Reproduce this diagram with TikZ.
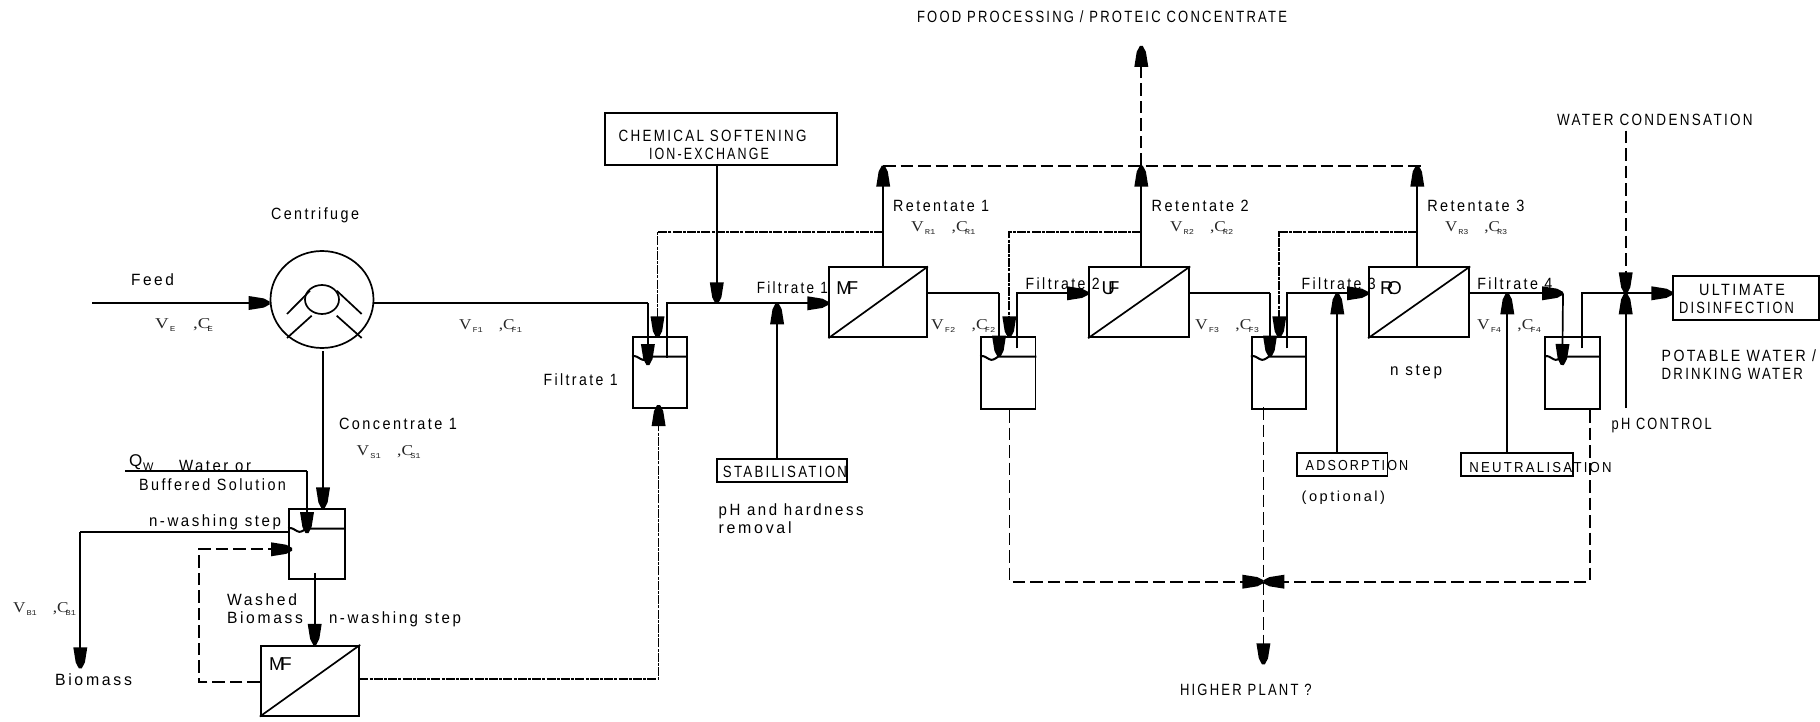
\documentclass[tikz,border=0pt]{standalone}
\usepackage{fontspec}
\usepackage{graphicx}
\usetikzlibrary{arrows.meta,shapes.geometric,calc}
\setmainfont{Liberation Sans}
\newfontfamily\labfont[LetterSpace=14,FakeStretch=0.82]{Liberation Sans}
\newfontfamily\vcserif{Liberation Serif}
\newfontfamily\vcmono{Liberation Mono}
\pgfdeclarearrow{
  name=Bullet,
  setup code={\pgfarrowssettipend{0pt}\pgfarrowssetbackend{-21pt}\pgfarrowssetlineend{-18pt}\pgfarrowssetvisualbackend{-19pt}\pgfarrowssavethe{\pgfarrowlength}},
  drawing code={
    \pgfsetlinewidth{0pt}
    \pgfpathmoveto{\pgfqpoint{0pt}{1.5pt}}
    \pgfpathlineto{\pgfqpoint{-6pt}{4.6pt}}
    \pgfpathlineto{\pgfqpoint{-21pt}{7pt}}
    \pgfpathlineto{\pgfqpoint{-21pt}{-7pt}}
    \pgfpathlineto{\pgfqpoint{-6pt}{-4.6pt}}
    \pgfpathlineto{\pgfqpoint{0pt}{-1.5pt}}
    \pgfpathclose
    \pgfusepathqfill
  },
  defaults={}
}
\newcommand\lbl[5]{\node[lab] (#1) at (#2,#3) {\resizebox{#4pt}{\height}{#5}};}
\newcommand\smtxt[1]{{\fontsize{14.5}{16}\selectfont #1}}
\newcommand\subf[1]{\raisebox{-3.5pt}{\fontsize{7.5}{8}\vcmono #1}}
\newcommand\vcl[6]{\node[vcstyle] (#1) at (#2,#3) {\resizebox{#4pt}{\height}{\vcserif V\hskip 1pt\subf{#5}\hskip 14pt,C\kern-2.5pt\subf{#6}}};}
\newcommand\mem[4]{\node[memtext] (#1) at (#2,#3) {#4};}
\tikzset{
  ln/.style={line width=1.7pt},
  tipped/.style={-{Bullet}},
  flow/.style={ln,tipped},
  longdash/.style={ln,dash pattern=on 12.5pt off 5pt},
  recyc/.style={ln,dash pattern=on 9pt off 1.2pt on 3pt off 1.2pt},
  boxn/.style={draw,rectangle,inner sep=0pt,line width=1.7pt},
  lab/.style={anchor=west,inner sep=0pt,outer sep=0pt,text height=11.7pt,text depth=0pt,font=\labfont\fontsize{16.3}{18}\selectfont},
  vcstyle/.style={anchor=west,inner sep=0pt,outer sep=0pt,text height=10pt,text depth=0pt,text=black!85,font=\fontsize{15}{17}\selectfont},
  memtext/.style={anchor=west,inner sep=0pt,outer sep=0pt,text height=13pt,text depth=0pt,font=\fontsize{18.6}{20}\selectfont},
  liquid/.style={line width=2pt}
}
\begin{document}
\begin{tikzpicture}[x=1pt,y=-1pt]
\useasboundingbox (0,0) rectangle (1820,722);
% equipment
\node[draw,ellipse,inner sep=0pt,line width=1.7pt,minimum width=103pt,minimum height=97pt] (cfg) at (322,299.5) {};
\node[draw,ellipse,inner sep=0pt,line width=1.7pt,minimum width=34pt,minimum height=29pt] (core) at (322,299.5) {};
\draw[ln] (287,314) -- (310,290.7) (361.7,314) -- (336.7,290.7) (287,338) -- (311.7,315.7) (361.7,338) -- (336.7,315.7);
\node[boxn,minimum width=56pt,minimum height=70pt] (tankW) at (317,544.3) {};
\node[boxn,minimum width=54.2pt,minimum height=70.4pt] (tankA) at (660,372.5) {};
\node[boxn,minimum width=54.4pt,minimum height=72pt] (tankB) at (1008.2,373.3) {};
\node[boxn,minimum width=54pt,minimum height=72pt] (tankC) at (1278.7,373.3) {};
\node[boxn,minimum width=54.7pt,minimum height=72pt] (tankD) at (1572.65,373.3) {};
\foreach \t in {tankW,tankA,tankB,tankC,tankD}{
  \draw[liquid] ([yshift=-20.2pt]\t.north west) .. controls +(4,-2) and +(-3,-1) .. ++(9,2.5) .. controls +(3,2) and +(-3,2) .. ++(9,-2.5) -- ([yshift=-20.2pt]\t.north east);
}
\node[boxn,minimum width=98.6pt,minimum height=70pt] (mfW) at (310,680.7) {};
\node[boxn,minimum width=97.8pt,minimum height=70pt] (mfA) at (878.2,302.3) {};
\node[boxn,minimum width=100.3pt,minimum height=70pt] (ufB) at (1139.15,302.3) {};
\node[boxn,minimum width=100.3pt,minimum height=70pt] (roC) at (1419.15,302.3) {};
\foreach \t in {mfW,mfA,ufB,roC}{\draw[ln] (\t.south west) -- (\t.north east);}
\node[boxn,minimum width=232.1pt,minimum height=51.7pt] (chem) at (721.05,139.15) {};
\node[boxn,minimum width=130.3pt,minimum height=22.4pt] (stab) at (781.95,470.5) {};
\node[boxn,minimum width=90.6pt,minimum height=22.4pt] (adso) at (1342.3,464.5) {};
\node[boxn,minimum width=112.3pt,minimum height=22.4pt] (neut) at (1517.15,464.5) {};
\node[boxn,minimum width=146pt,minimum height=44pt] (disi) at (1746.3,297.7) {};
% named free ends and junctions
\coordinate (feedin) at (92,303);
\coordinate (cfgout) at (373,303);
\coordinate (ftop) at (647.9,303);
\coordinate (ftip) at (647.9,365);
\coordinate (conc) at (323,351);
\coordinate (qin) at (125,471);
\coordinate (qc) at (307,471);
\coordinate (qtip) at (307,533);
\coordinate (bioc) at (80.3,531.7);
\coordinate (biotip) at (80.3,668.3);
\coordinate (wA) at (199,681.7);
\coordinate (wB) at (199,549.3);
\coordinate (wC) at (292,549.3);
\coordinate (wout) at (314.7,573.3);
\coordinate (mfout) at (359.3,679.3);
\coordinate (mfc) at (658.6,679.3);
\coordinate (atip) at (658.6,405);
\coordinate (aout) at (666.8,357.7);
\coordinate (atop) at (666.8,303.3);
\coordinate (chemj) at (716.8,303.3);
\coordinate (stabj) at (777.1,303.3);
\coordinate (ret1) at (883.2,165.7);
\coordinate (ret2) at (1141.3,165.7);
\coordinate (ret3) at (1417.3,165.7);
\coordinate (retend) at (1421.7,165.7);
\coordinate (food) at (1141.3,46);
\coordinate (rec1j) at (883.2,231.7);
\coordinate (rec1c) at (657.5,231.7);
\coordinate (rec1t) at (657.5,337.3);
\coordinate (rec2j) at (1141.3,231.7);
\coordinate (rec2c) at (1009.3,231.7);
\coordinate (rec2t) at (1009.3,337.3);
\coordinate (rec3j) at (1417.3,231.7);
\coordinate (rec3c) at (1279.3,231.7);
\coordinate (rec3t) at (1279.3,337.3);
\coordinate (mfex) at (927.1,293.3);
\coordinate (mfc2) at (999,293.3);
\coordinate (mft2) at (999,356.7);
\coordinate (bout) at (1017.2,348.3);
\coordinate (btop) at (1017.2,293.3);
\coordinate (ufex) at (1189.3,293.3);
\coordinate (ufc) at (1270,293.3);
\coordinate (uft) at (1270,356.7);
\coordinate (cout) at (1287.3,348.3);
\coordinate (ctop) at (1287.3,293.3);
\coordinate (adsj) at (1337.3,293.3);
\coordinate (roex) at (1469.3,293.3);
\coordinate (neuj) at (1507.3,293.3);
\coordinate (roc) at (1563,293.3);
\coordinate (rot) at (1562.3,365);
\coordinate (dout) at (1581.7,348.3);
\coordinate (dtop) at (1581.7,293.3);
\coordinate (disj) at (1625.7,293.3);
\coordinate (wcond) at (1625.7,130.7);
\coordinate (phin) at (1625.7,408);
\coordinate (hpj) at (1263.4,581.7);
\coordinate (hptip) at (1263.4,664.3);
\coordinate (hpl) at (1009.4,581.7);
\coordinate (hpr) at (1589.7,581.7);
\coordinate (cdrop) at (1263.4,407);
% connectors
\draw[flow] (feedin) -- (feedin -| cfg.west);
\draw[ln] (cfgout) -- (ftop);
\draw[flow] (ftop) -- (ftip);
\draw[flow] (conc) -- (conc |- tankW.north);
\draw[ln] (qin) -- (qc);
\draw[flow] (qc) -- (qtip);
\draw[ln] (bioc -| tankW.west) -- (bioc);
\draw[flow] (bioc) -- (biotip);
\draw[longdash] (wA -| mfW.west) -- (wA) -- (wB) -- ($(wC)+(-20,0)$);
\draw[ln,tipped] ($(wC)+(-20,0)$) -- (wC);
\draw[flow] (wout) -- (wout |- mfW.north);
\draw[recyc] (mfout) -- (mfc) -- ($(atip)+(0,20)$);
\draw[flow] ($(atip)+(0,20)$) -- (atip);
\draw[ln] (aout) -- (atop) -- (atop -| mfA.west);
\draw[flow] ($(atop -| mfA.west)+(-25,0)$) -- (atop -| mfA.west);
\draw[flow] (chemj |- chem.south) -- (chemj);
\draw[flow] (stabj |- stab.north) -- (stabj);
\draw[flow] (ret1 |- mfA.north) -- (ret1);
\draw[flow] (ret2 |- ufB.north) -- (ret2);
\draw[flow] (ret3 |- roC.north) -- (ret3);
\draw[longdash] (ret1) -- (retend);
\draw[longdash] (ret2) -- ($(food)+(0,20)$);
\draw[flow] ($(food)+(0,20)$) -- (food);
\draw[recyc] (rec1j) -- (rec1c) -- ($(rec1t)+(0,-20)$);
\draw[flow] ($(rec1t)+(0,-20)$) -- (rec1t);
\draw[recyc] (rec2j) -- (rec2c) -- ($(rec2t)+(0,-20)$);
\draw[flow] ($(rec2t)+(0,-20)$) -- (rec2t);
\draw[recyc] (rec3j) -- (rec3c) -- ($(rec3t)+(0,-20)$);
\draw[flow] ($(rec3t)+(0,-20)$) -- (rec3t);
\draw[ln] (mfex) -- (mfc2);
\draw[flow] (mfc2) -- (mft2);
\draw[flow] (bout) -- (btop) -- (btop -| ufB.west);
\draw[ln] (ufex) -- (ufc);
\draw[flow] (ufc) -- (uft);
\draw[flow] (cout) -- (ctop) -- (ctop -| roC.west);
\draw[flow] (adsj |- adso.north) -- (adsj);
\draw[flow] (roex) -- (roc);
\draw[flow] (roc) -- (rot);
\draw[flow] (neuj |- neut.north) -- (neuj);
\draw[flow] (dout) -- (dtop) -- (dtop -| disi.west);
\draw[longdash] (wcond) -- ($(disj)+(0,-20)$);
\draw[flow] ($(disj)+(0,-20)$) -- (disj);
\draw[flow] (phin) -- (disj);
\draw[longdash] (hpl |- tankB.south) -- (hpl) -- ($(hpj)+(-20,0)$);
\draw[longdash] (hpr |- tankD.south) -- (hpr) -- ($(hpj)+(20,0)$);
\draw[flow] ($(hpj)+(-20,0)$) -- (hpj);
\draw[flow] ($(hpj)+(20,0)$) -- (hpj);
\draw[longdash] (cdrop) -- ($(hptip)+(0,-20)$);
\draw[flow] ($(hptip)+(0,-20)$) -- (hptip);
% labels
\lbl{tFood}{917}{16.5}{370}{FOOD PROCESSING / PROTEIC CONCENTRATE}
\lbl{tCentr}{271}{214}{88}{Centrifuge}
\lbl{tFeed}{131}{280}{43}{Feed}
\lbl{tConc}{339}{424}{118}{Concentrate 1}
\lbl{tWater}{179}{466}{72}{Water or}
\lbl{tBuff}{139}{484.3}{147}{Buffered Solution}
\lbl{tNw}{149}{520.7}{132}{n-washing step}
\lbl{tWash}{227}{600}{70}{Washed}
\lbl{tBio}{227}{618}{76}{Biomass}
\lbl{tNw2}{329}{618}{132}{n-washing step}
\lbl{tBiom}{55}{680}{77}{Biomass}
\lbl{tFa}{543.6}{380}{74}{Filtrate 1}
\lbl{tFb}{756.8}{287.7}{71}{Filtrate 1}
\lbl{tChemA}{618.6}{135.7}{188}{CHEMICAL SOFTENING}
\lbl{tChemB}{649}{153.3}{120}{ION-EXCHANGE}
\lbl{tStab}{722.9}{471.7}{124}{STABILISATION}
\lbl{tPh}{718.6}{510}{145}{pH and hardness}
\lbl{tRem}{718.6}{527.7}{73}{removal}
\lbl{tRa}{893.2}{206}{96}{Retentate 1}
\lbl{tRb}{1151.7}{206}{97}{Retentate 2}
\lbl{tRc}{1427.3}{206}{97}{Retentate 3}
\lbl{tFc}{1025.7}{284}{74}{Filtrate 2}
\lbl{tFd}{1301.7}{284}{74}{Filtrate 3}
\lbl{tFe}{1477.3}{284}{75}{Filtrate 4}
\lbl{tStep}{1390}{370}{52}{n step}
\lbl{tAds}{1305.7}{465}{102.6}{\smtxt{ADSORPTION}}
\lbl{tOpt}{1301.7}{495.7}{83.3}{\smtxt{(optional)}}
\lbl{tNeu}{1469.3}{466.7}{142.4}{\smtxt{NEUTRALISATION}}
\lbl{tWc}{1557}{119.3}{195.7}{WATER CONDENSATION}
\lbl{tUlt}{1699}{290}{86}{ULTIMATE}
\lbl{tDis}{1679}{307.3}{115}{DISINFECTION}
\lbl{tPot}{1661.7}{356}{154.3}{POTABLE WATER /}
\lbl{tDri}{1661.7}{373.3}{141.3}{DRINKING WATER}
\lbl{tPhc}{1611.7}{423.3}{100}{pH CONTROL}
\lbl{tHp}{1180}{689.3}{131.6}{HIGHER PLANT ?}
\node[anchor=west,inner sep=0pt,text height=13pt,text depth=0pt,font=\fontsize{17}{19}\selectfont] (tQ) at (129,460) {Q};
\node[anchor=west,inner sep=0pt,text height=8pt,text depth=0pt,font=\fontsize{11}{12}\selectfont] (tQw) at (143,466) {W};
\mem{tMfW}{269}{664}{M\kern-4pt F}
\mem{tMfA}{836.4}{287.7}{M\kern-5pt F}
\mem{tUf}{1101.7}{287.7}{U\kern-7pt F}
\mem{tRo}{1380}{287.7}{R\kern-6pt O}
\vcl{vE}{155}{323}{58}{E}{E}
\vcl{vFa}{459}{324}{63}{F1}{F1}
\vcl{vS}{356.7}{450}{64}{S1}{S1}
\vcl{vB}{13}{607}{63}{B1}{B1}
\vcl{vRa}{911}{226}{64.4}{R1}{R1}
\vcl{vFb}{931}{324}{64.4}{F2}{F2}
\vcl{vRb}{1170}{226}{63.3}{R2}{R2}
\vcl{vFc}{1195}{324}{64}{F3}{F3}
\vcl{vRc}{1445}{226}{62.3}{R3}{R3}
\vcl{vFd}{1477}{324}{64}{F4}{F4}
\end{tikzpicture}
\end{document}
